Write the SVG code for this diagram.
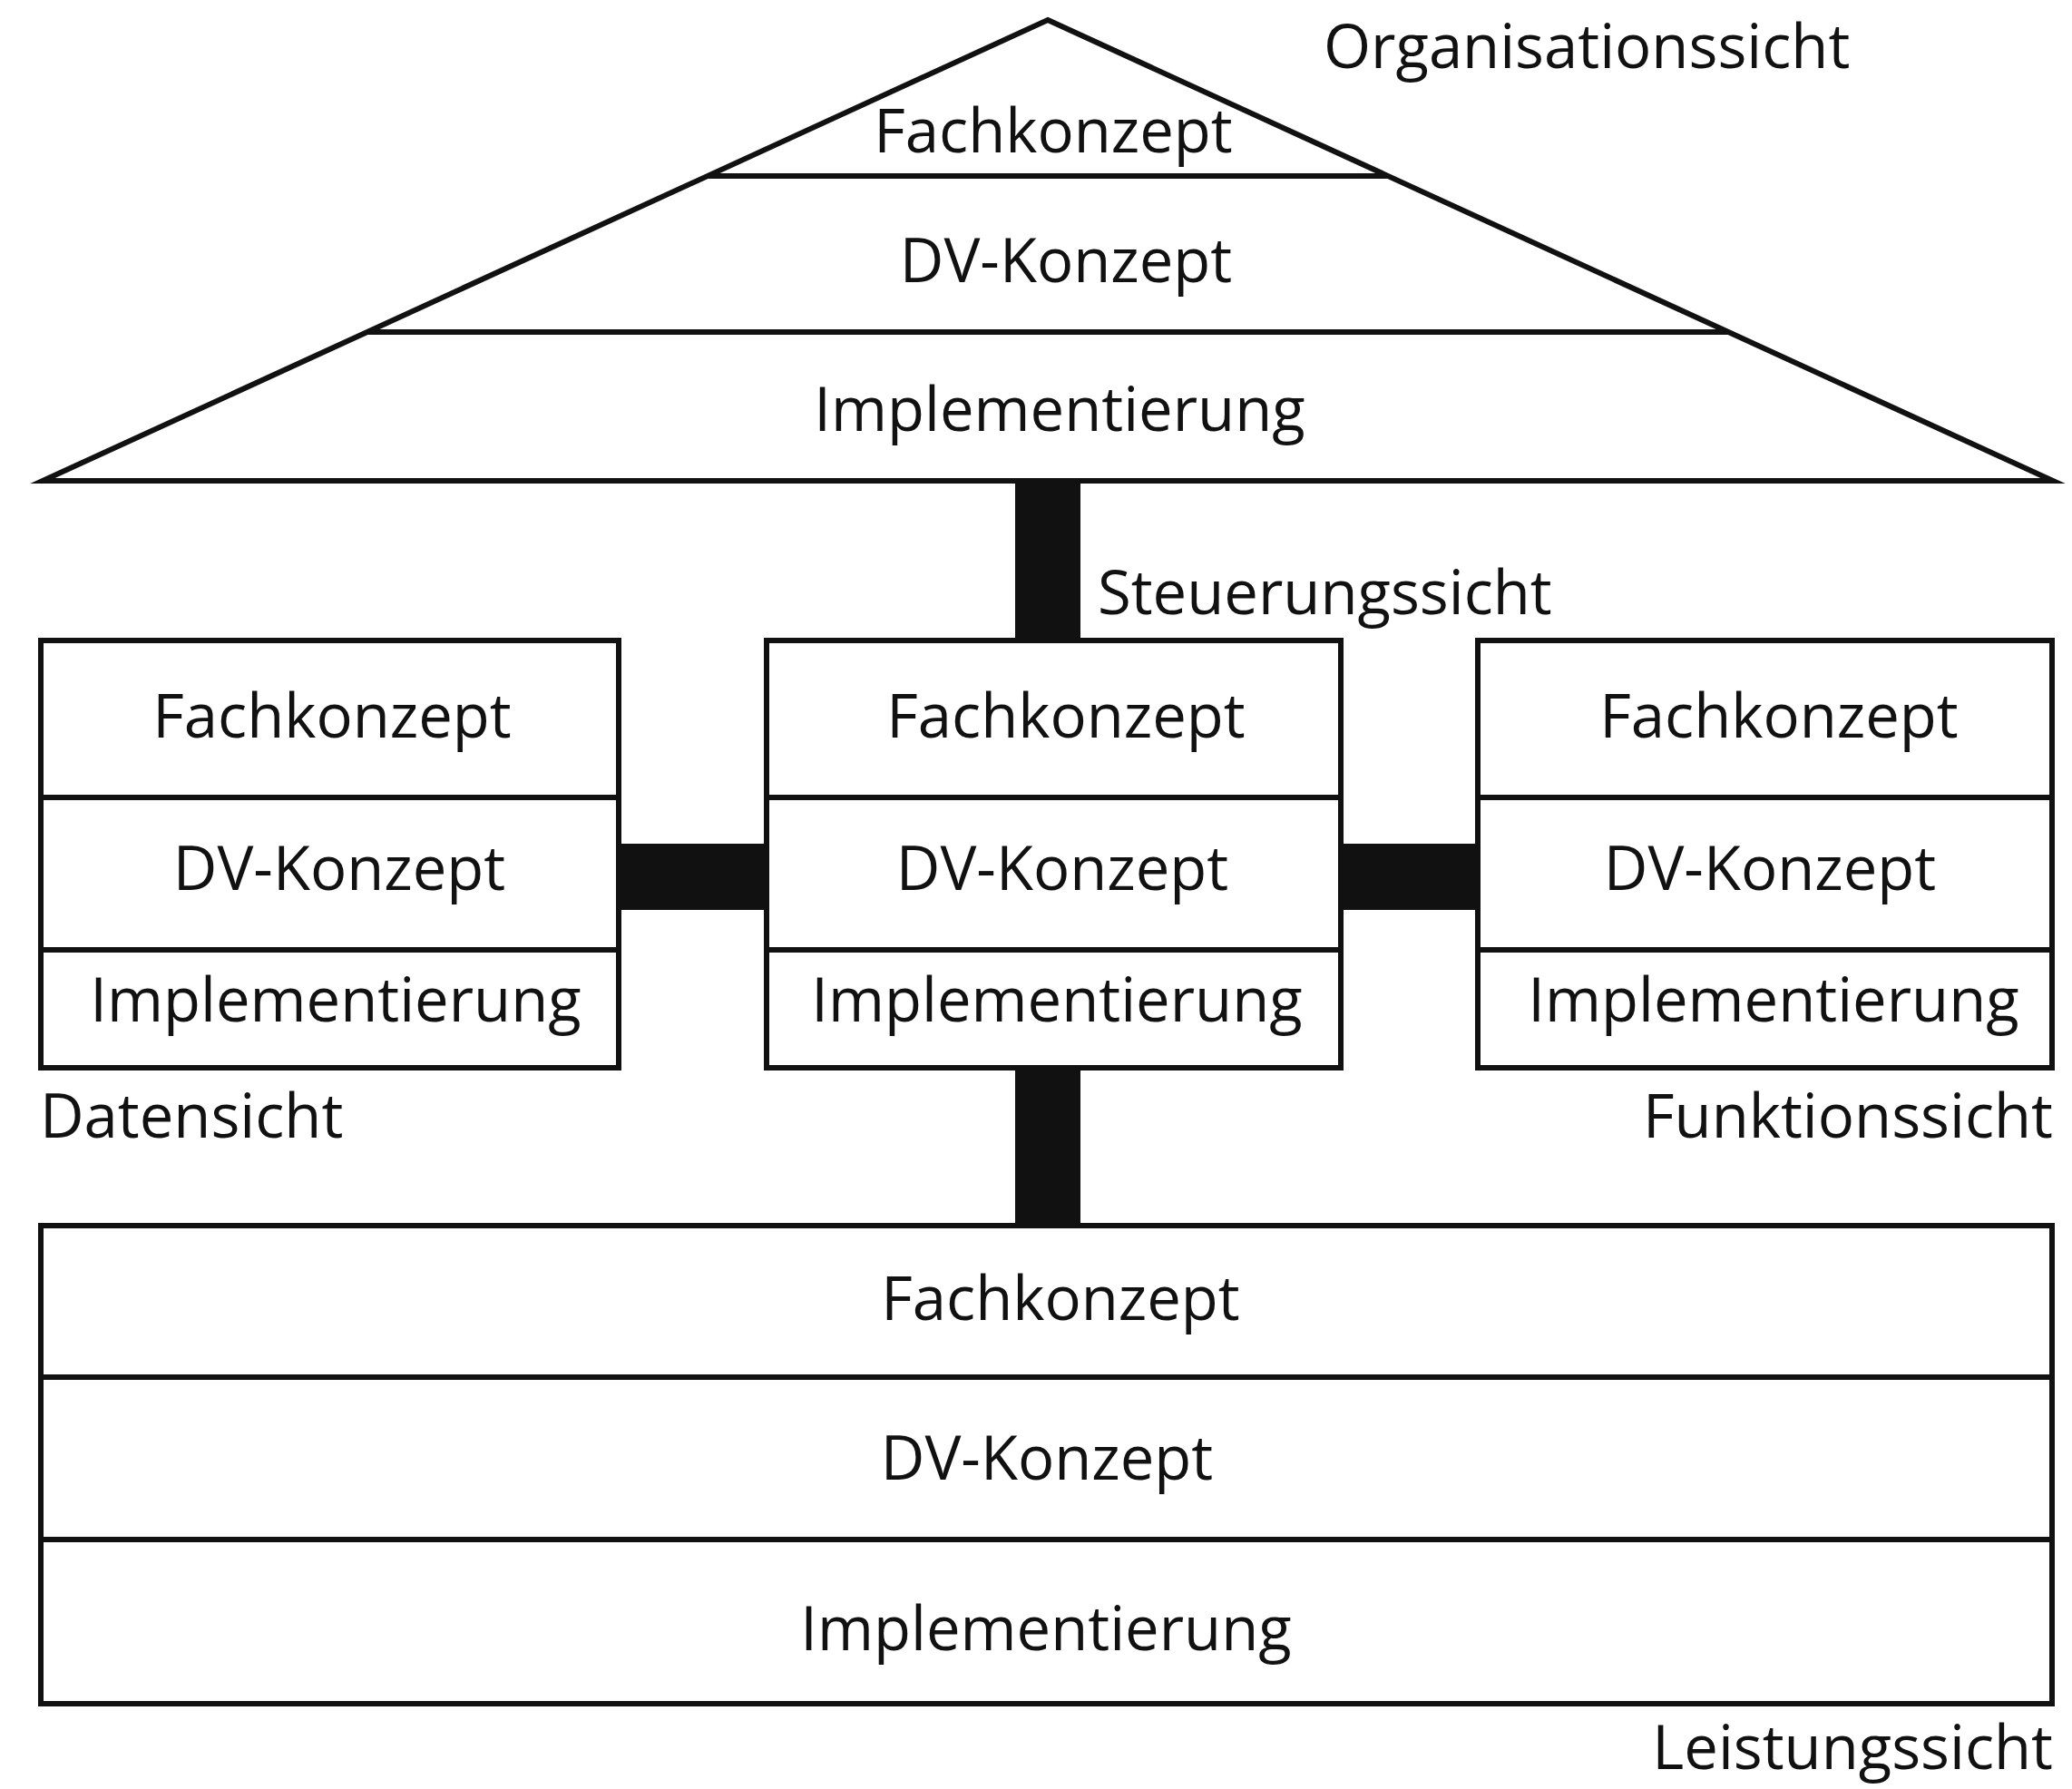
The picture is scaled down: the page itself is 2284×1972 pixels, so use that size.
<svg xmlns="http://www.w3.org/2000/svg" width="2284" height="1972" viewBox="0 0 2284 1972">
<style>
.s{fill:none;stroke:#111;stroke-width:6;stroke-linejoin:miter;stroke-miterlimit:10}
.l{stroke:#111;stroke-width:6}
.t{font-family:"Open Sans","Noto Sans",sans-serif;font-size:67px;fill:#111;text-anchor:middle}
.a{font-family:"Open Sans","Noto Sans",sans-serif;font-size:67px;fill:#111}
.bar{fill:#111}
</style>
<rect width="2284" height="1972" fill="#fff"/>
<g id="connectors">
<rect class="bar" x="1119" y="530" width="72" height="176"/>
<rect class="bar" x="682" y="930" width="163" height="73"/>
<rect class="bar" x="1478" y="930" width="151" height="73"/>
<rect class="bar" x="1119" y="1177" width="72" height="174"/>
</g>
<g id="organisationssicht">
<polygon class="s" points="1155,22 2263,530 47,530"/>
<line class="l" x1="780" y1="194" x2="1530" y2="194"/>
<line class="l" x1="405" y1="366" x2="1905" y2="366"/>
<text class="t" x="1161" y="168">Fachkonzept</text>
<text class="t" x="1175" y="311">DV-Konzept</text>
<text class="t" x="1168" y="475">Implementierung</text>
<text class="a" x="1459" y="75">Organisationssicht</text>
</g>
<g id="steuerungssicht">
<rect class="s" x="845" y="706" width="633" height="471"/>
<line class="l" x1="845" y1="879" x2="1478" y2="879"/>
<line class="l" x1="845" y1="1047" x2="1478" y2="1047"/>
<text class="t" x="1175" y="813">Fachkonzept</text>
<text class="t" x="1171" y="981">DV-Konzept</text>
<text class="t" x="1165" y="1126">Implementierung</text>
<text class="a" x="1210" y="677">Steuerungssicht</text>
</g>
<g id="datensicht">
<rect class="s" x="45" y="706" width="637" height="471"/>
<line class="l" x1="45" y1="879" x2="682" y2="879"/>
<line class="l" x1="45" y1="1047" x2="682" y2="1047"/>
<text class="t" x="366" y="813">Fachkonzept</text>
<text class="t" x="374" y="981">DV-Konzept</text>
<text class="t" x="370" y="1126">Implementierung</text>
<text class="a" x="44" y="1254">Datensicht</text>
</g>
<g id="funktionssicht">
<rect class="s" x="1629" y="706" width="633" height="471"/>
<line class="l" x1="1629" y1="879" x2="2262" y2="879"/>
<line class="l" x1="1629" y1="1047" x2="2262" y2="1047"/>
<text class="t" x="1961" y="813">Fachkonzept</text>
<text class="t" x="1951" y="981">DV-Konzept</text>
<text class="t" x="1955" y="1126">Implementierung</text>
<text class="a" x="2263" y="1254" text-anchor="end">Funktionssicht</text>
</g>
<g id="leistungssicht">
<rect class="s" x="45" y="1351" width="2217" height="527"/>
<line class="l" x1="45" y1="1518" x2="2262" y2="1518"/>
<line class="l" x1="45" y1="1697" x2="2262" y2="1697"/>
<text class="t" x="1169" y="1455">Fachkonzept</text>
<text class="t" x="1154" y="1631">DV-Konzept</text>
<text class="t" x="1153" y="1819">Implementierung</text>
<text class="a" x="2263" y="1950" text-anchor="end">Leistungssicht</text>
</g>
</svg>
